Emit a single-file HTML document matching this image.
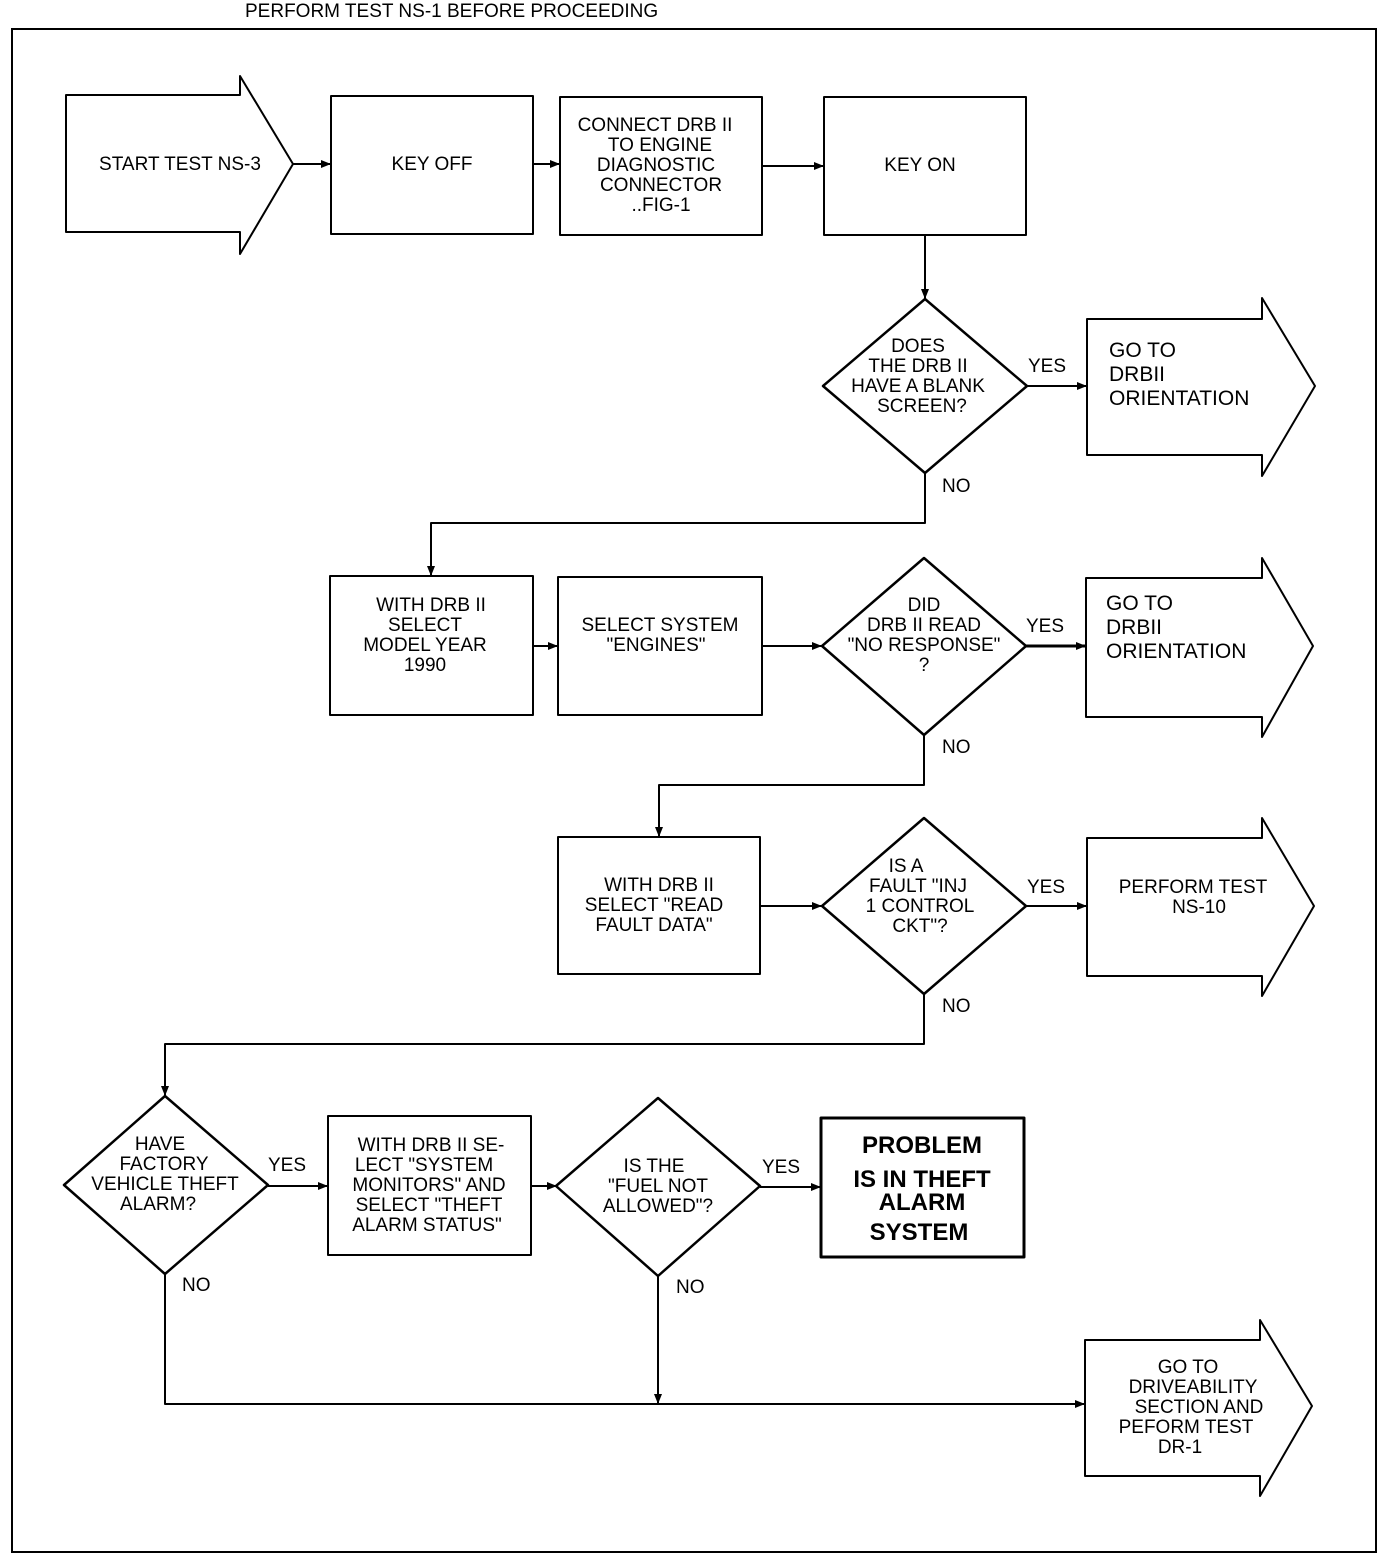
<!DOCTYPE html>
<html><head><meta charset="utf-8"><style>
html,body{margin:0;padding:0;background:#fff;}
svg{display:block;}
text{font-family:"Liberation Sans",sans-serif;fill:#000;}
.t{font-size:19px;text-anchor:middle;}
.l{font-size:19px;}
.g{font-size:21px;}
</style></head><body>
<svg width="1392" height="1556" viewBox="0 0 1392 1556" xmlns="http://www.w3.org/2000/svg">
<defs><marker id="a" markerWidth="10" markerHeight="8" refX="10" refY="4" orient="auto" markerUnits="userSpaceOnUse"><path d="M0,0 L10,4 L0,8 z" fill="#000"/></marker></defs>
<text x="245" y="17" style="font-size:19px">PERFORM TEST NS-1 BEFORE PROCEEDING</text>
<rect x="12" y="29" width="1364" height="1523" fill="none" stroke="#000" stroke-width="2"/>
<g fill="none" stroke="#000" stroke-width="2" stroke-linejoin="round">
<!-- block arrows -->
<path d="M66,95 H240 V76 L293,164 L240,254 V232 H66 Z"/>
<path d="M1087,319 H1262 V298 L1315,386 L1262,476 V455 H1087 Z"/>
<path d="M1086,578 H1262 V558 L1313,646 L1262,737 V717 H1086 Z"/>
<path d="M1087,838 H1262 V818 L1314,906 L1262,996 V976 H1087 Z"/>
<path d="M1085,1340 H1260 V1320 L1312,1406 L1260,1496 V1476 H1085 Z"/>
<!-- boxes -->
<rect x="331" y="96" width="202" height="138"/>
<rect x="560" y="97" width="202" height="138"/>
<rect x="824" y="97" width="202" height="138"/>
<rect x="330" y="576" width="203" height="139"/>
<rect x="558" y="577" width="204" height="138"/>
<rect x="558" y="837" width="202" height="137"/>
<rect x="328" y="1116" width="203" height="139"/>
<rect x="821" y="1118" width="203" height="139" stroke-width="3"/>
<!-- diamonds -->
<path d="M925,299 L1027,386 L925,473 L823,386 Z" stroke-width="2.5"/>
<path d="M924,558 L1026,646 L924,735 L822,646 Z" stroke-width="2.5"/>
<path d="M924,818 L1026,906 L924,994 L822,906 Z" stroke-width="2.5"/>
<path d="M165,1096 L268,1185 L165,1274 L64,1185 Z" stroke-width="2.5"/>
<path d="M658,1098 L760,1186 L658,1276 L556,1186 Z" stroke-width="2.5"/>
<!-- connectors -->
<line x1="293" y1="164" x2="331" y2="164" marker-end="url(#a)"/>
<line x1="533" y1="164" x2="560" y2="164" marker-end="url(#a)"/>
<line x1="762" y1="166" x2="824" y2="166" marker-end="url(#a)"/>
<line x1="925" y1="235" x2="925" y2="299" marker-end="url(#a)"/>
<line x1="1027" y1="386" x2="1087" y2="386" marker-end="url(#a)"/>
<polyline points="925,473 925,523 431,523 431,576" marker-end="url(#a)"/>
<line x1="533" y1="646" x2="558" y2="646" marker-end="url(#a)"/>
<line x1="762" y1="646" x2="822" y2="646" marker-end="url(#a)"/>
<line x1="1026" y1="646" x2="1086" y2="646" stroke-width="3" marker-end="url(#a)"/>
<polyline points="924,735 924,785 659,785 659,837" marker-end="url(#a)"/>
<line x1="760" y1="906" x2="822" y2="906" marker-end="url(#a)"/>
<line x1="1026" y1="906" x2="1087" y2="906" marker-end="url(#a)"/>
<polyline points="924,994 924,1044 165,1044 165,1096" marker-end="url(#a)"/>
<line x1="268" y1="1186" x2="328" y2="1186" marker-end="url(#a)"/>
<line x1="531" y1="1186" x2="557" y2="1186" marker-end="url(#a)"/>
<line x1="760" y1="1187" x2="821" y2="1187" marker-end="url(#a)"/>
<polyline points="165,1274 165,1404 1085,1404" marker-end="url(#a)"/>
<line x1="658" y1="1276" x2="658" y2="1404" marker-end="url(#a)"/>
</g>
<!-- text -->
<text class="t" x="180" y="170">START TEST NS-3</text>
<text class="t" x="432" y="170">KEY OFF</text>
<text class="t" x="655" y="131">CONNECT DRB II</text>
<text class="t" x="660" y="151">TO ENGINE</text>
<text class="t" x="656" y="171">DIAGNOSTIC</text>
<text class="t" x="661" y="191">CONNECTOR</text>
<text class="t" x="661" y="211">..FIG-1</text>
<text class="t" x="920" y="171">KEY ON</text>
<text class="t" x="918" y="352">DOES</text>
<text class="t" x="918" y="372">THE DRB II</text>
<text class="t" x="918" y="392">HAVE A BLANK</text>
<text class="t" x="922" y="412">SCREEN?</text>
<text class="l" x="1028" y="372">YES</text>
<text class="l" x="942" y="492">NO</text>
<text class="g" x="1109" y="357">GO TO</text>
<text class="g" x="1109" y="381">DRBII</text>
<text class="g" x="1109" y="405">ORIENTATION</text>
<text class="t" x="431" y="611">WITH DRB II</text>
<text class="t" x="425" y="631">SELECT</text>
<text class="t" x="425" y="651">MODEL YEAR</text>
<text class="t" x="425" y="671">1990</text>
<text class="t" x="660" y="631">SELECT SYSTEM</text>
<text class="t" x="656" y="651">"ENGINES"</text>
<text class="t" x="924" y="611">DID</text>
<text class="t" x="924" y="631">DRB II READ</text>
<text class="t" x="924" y="651">"NO RESPONSE"</text>
<text class="t" x="924" y="671">?</text>
<text class="l" x="1026" y="632">YES</text>
<text class="l" x="942" y="753">NO</text>
<text class="g" x="1106" y="610">GO TO</text>
<text class="g" x="1106" y="634">DRBII</text>
<text class="g" x="1106" y="658">ORIENTATION</text>
<text class="t" x="659" y="891">WITH DRB II</text>
<text class="t" x="654" y="911">SELECT "READ</text>
<text class="t" x="654" y="931">FAULT DATA"</text>
<text class="t" x="906" y="872">IS A</text>
<text class="t" x="918" y="892">FAULT "INJ</text>
<text class="t" x="920" y="912">1 CONTROL</text>
<text class="t" x="920" y="932">CKT"?</text>
<text class="l" x="1027" y="893">YES</text>
<text class="l" x="942" y="1012">NO</text>
<text class="t" x="1193" y="893">PERFORM TEST</text>
<text class="t" x="1199" y="913">NS-10</text>
<text class="t" x="160" y="1150">HAVE</text>
<text class="t" x="164" y="1170">FACTORY</text>
<text class="t" x="165" y="1190">VEHICLE THEFT</text>
<text class="t" x="158" y="1210">ALARM?</text>
<text class="l" x="268" y="1171">YES</text>
<text class="l" x="182" y="1291">NO</text>
<text class="t" x="431" y="1151">WITH DRB II SE-</text>
<text class="t" x="424" y="1171">LECT "SYSTEM</text>
<text class="t" x="429" y="1191">MONITORS" AND</text>
<text class="t" x="429" y="1211">SELECT "THEFT</text>
<text class="t" x="427" y="1231">ALARM STATUS"</text>
<text class="t" x="654" y="1172">IS THE</text>
<text class="t" x="658" y="1192">"FUEL NOT</text>
<text class="t" x="658" y="1212">ALLOWED"?</text>
<text class="l" x="762" y="1173">YES</text>
<text class="l" x="676" y="1293">NO</text>
<text x="922" y="1153" style="font-size:24px;font-weight:bold;text-anchor:middle">PROBLEM</text>
<text x="922" y="1187" style="font-size:24px;font-weight:bold;text-anchor:middle">IS IN THEFT</text>
<text x="922" y="1210" style="font-size:24px;font-weight:bold;text-anchor:middle">ALARM</text>
<text x="919" y="1240" style="font-size:24px;font-weight:bold;text-anchor:middle">SYSTEM</text>
<text class="t" x="1188" y="1373">GO TO</text>
<text class="t" x="1193" y="1393">DRIVEABILITY</text>
<text class="t" x="1199" y="1413">SECTION AND</text>
<text class="t" x="1186" y="1433">PEFORM TEST</text>
<text class="t" x="1180" y="1453">DR-1</text>
</svg>
</body></html>
